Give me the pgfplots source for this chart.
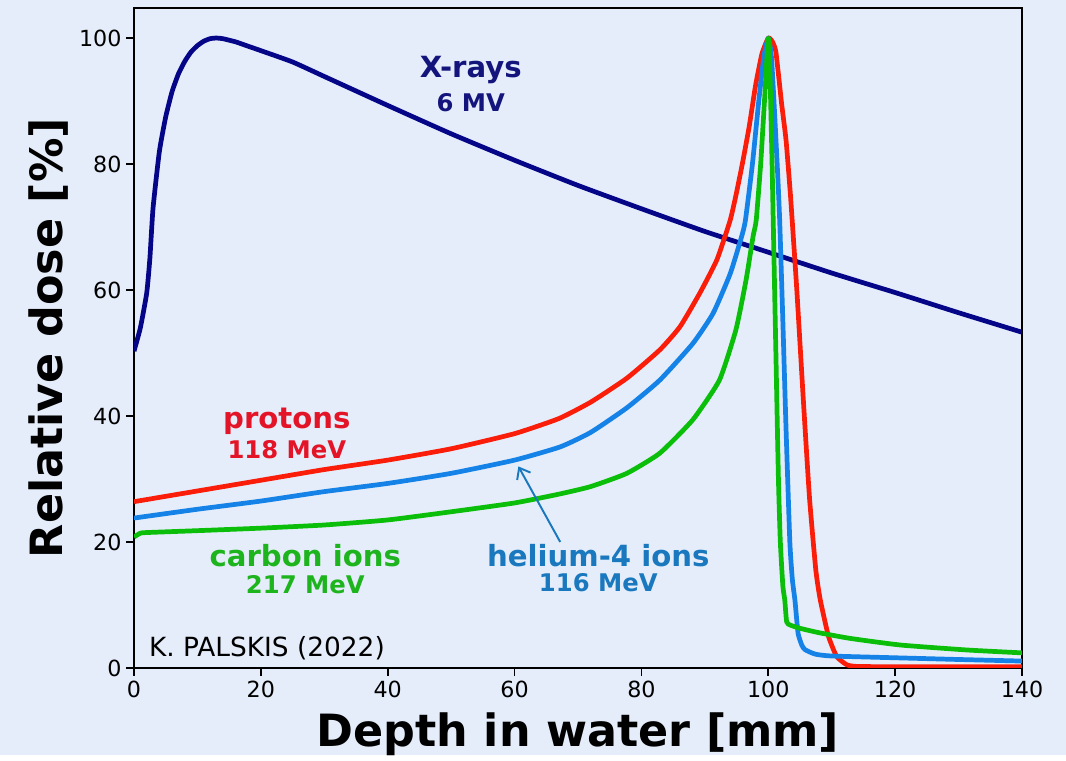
\documentclass[border=0pt]{standalone}
\usepackage{pgfplots}
\pgfplotsset{compat=1.18}
\usetikzlibrary{arrows.meta}
\usepackage{fontspec}
\setmainfont{DejaVu Sans}
\definecolor{bg}{RGB}{229,237,250}
\definecolor{xline}{RGB}{5,5,135}
\definecolor{xtext}{RGB}{20,20,125}
\definecolor{pline}{RGB}{250,30,10}
\definecolor{ptext}{RGB}{228,20,40}
\definecolor{hline}{RGB}{20,130,230}
\definecolor{htext}{RGB}{25,120,190}
\definecolor{cline}{RGB}{10,190,10}
\definecolor{ctext}{RGB}{30,180,30}

\pgfplotstableread{
x y
0 50.3
1 54
2 59.5
2.5 65
3 73
4 82
5 87.5
6 91.5
7 94.3
8 96.3
9 97.8
10 98.8
11 99.5
12 99.9
13 100
14 99.9
16 99.4
18 98.7
20 98
25 96.2
30 93.9
40 89.3
50 84.8
60 80.6
70 76.6
80 72.9
90 69.3
100 66
110 62.7
120 59.6
130 56.4
140 53.3
}\xrays

\pgfplotstableread{
x y
0 26.4
10 28.1
20 29.8
30 31.5
40 33.0
50 34.8
60 37.2
67 39.6
72 42.2
77.7 46.0
82.9 50.5
86.1 54.2
89.2 59.5
91.9 64.8
94.0 71.1
95 75.5
96 80.5
97 86
98 92.5
99 97.5
100 100
100.6 99.5
101.2 97.8
102.1 89.6
102.8 83.8
103.5 75
104.5 60
105.5 43
106.5 27
107.5 15.5
108.2 10.8
109.5 5.0
110.8 1.8
112.4 0.5
114 0.25
120 0.2
140 0.2
}\protons

\pgfplotstableread{
x y
0 23.8
10 25.2
20 26.5
30 28.0
40 29.3
50 30.9
60 33.0
67.2 35.1
72 37.4
77.7 41.3
82.9 45.7
88.1 51.5
91.3 56.3
94.0 62.6
95.8 68.5
96.4 71.1
97.5 80
98.5 90
99.3 97
100 100
100.5 97
101.0 88
101.5 78
101.8 71
102.3 55
102.8 38
103.4 20
103.8 14
104.2 10.8
104.7 5.5
105.3 3.6
105.8 2.9
107.4 2.2
110 1.9
120.8 1.6
130 1.35
140 1.1
}\helium

\pgfplotstableread{
x y
0 20.8
1 21.4
2 21.5
10 21.8
20 22.2
30 22.7
40 23.5
50 24.8
60 26.2
67 27.6
72 28.8
77.7 30.9
82.9 34.1
88.1 39.4
92.3 45.7
94.9 53.7
96.5 61.6
97.6 68.5
98.1 71.1
98.8 80
99.4 90
100 100
100.3 93
100.6 80
100.8 70
101.2 50
101.6 30
101.9 20
102.3 13
102.6 10.8
102.9 7.3
103.5 6.8
105 6.3
108 5.6
112.9 4.7
120.8 3.65
131.3 2.86
140 2.4
}\carbon

\begin{document}
\begin{tikzpicture}
\fill[bg] (-96.5pt,-62.6pt) rectangle (671.1pt,481pt);
\begin{axis}[
  at={(0,0)}, anchor=south west,
  scale only axis, width=639.4pt, height=475.2pt,
  xmin=0, xmax=140, ymin=0, ymax=104.76,
  xtick={0,20,...,140}, ytick={0,20,...,100},
  tick align=outside, tick pos=left,
  major tick length=5.5pt,
  axis line style={line width=1.2pt},
  every tick/.style={line width=1.2pt, black},
  /pgf/number format/assume math mode=true,
  ticklabel style={font=\fontsize{16}{19}\selectfont},
  xlabel={Depth in water [mm]},
  ylabel={Relative dose [\%]},
  label style={font=\fontsize{32}{38}\selectfont\bfseries},
  xlabel style={at={(axis description cs:0.5,-0.1197)}, anchor=base},
  ylabel style={at={(axis description cs:-0.081,0.5)}, anchor=base},
  every axis plot/.append style={line width=3.4pt, line join=round, no markers, smooth, tension=0.3},
]
\addplot[color=xline] table {\xrays};
\addplot[color=pline] table {\protons};
\addplot[color=hline] table {\helium};
\addplot[color=cline] table {\carbon};

\node[text=xtext, font=\fontsize{21}{25}\selectfont\bfseries] at (axis cs:53.1,94.9) {X-rays};
\node[text=xtext, font=\fontsize{17.5}{21}\selectfont\bfseries] at (axis cs:53.1,89.8) {6 MV};
\node[text=ptext, font=\fontsize{21}{25}\selectfont\bfseries] at (axis cs:24.1,39.2) {protons};
\node[text=ptext, font=\fontsize{17.5}{21}\selectfont\bfseries] at (axis cs:24.1,34.6) {118 MeV};
\node[text=ctext, font=\fontsize{21}{25}\selectfont\bfseries] at (axis cs:27,17.9) {carbon ions};
\node[text=ctext, font=\fontsize{17.5}{21}\selectfont\bfseries] at (axis cs:27,13.2) {217 MeV};
\node[text=htext, font=\fontsize{21}{25}\selectfont\bfseries] at (axis cs:73.2,17.9) {helium-4 ions};
\node[text=htext, font=\fontsize{17.5}{21}\selectfont\bfseries] at (axis cs:73.2,13.5) {116 MeV};
\draw[htext, line width=1.4pt, -{Straight Barb[length=7pt,width=11pt]}] (axis cs:67.2,20.0) -- (axis cs:60.6,32.0);
\node[anchor=west, font=\fontsize{19}{23}\selectfont] at (axis cs:1.6,3.2) {K. PALSKIS (2022)};
\end{axis}
\end{tikzpicture}
\end{document}
